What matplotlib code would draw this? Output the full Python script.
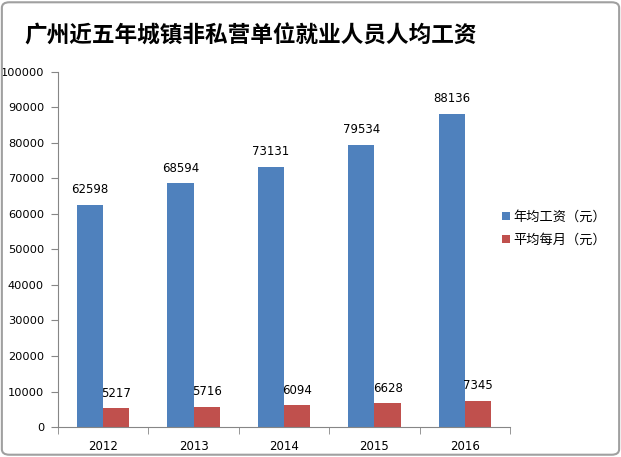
import matplotlib.pyplot as plt
import numpy as np
from matplotlib.patches import FancyBboxPatch

plt.rcParams['font.family'] = ['DejaVu Sans', 'Noto Sans CJK SC']

years = ['2012', '2013', '2014', '2015', '2016']
annual = [62598, 68594, 73131, 79534, 88136]
monthly = [5217, 5716, 6094, 6628, 7345]

fig = plt.figure(figsize=(6.21, 4.57), dpi=100)
ax = fig.add_axes([0.0934, 0.0656, 0.728, 0.777])

x = np.arange(len(years))
w = 0.29
b1 = ax.bar(x - w / 2, annual, w, color='#4F81BD', label='年均工资（元）')
b2 = ax.bar(x + w / 2, monthly, w, color='#C0504D', label='平均每月（元）')

for bars, vals in ((b1, annual), (b2, monthly)):
    for r, v in zip(bars, vals):
        ax.text(r.get_x() + r.get_width() / 2, v + 2500, str(v),
                ha='center', va='bottom', fontsize=8.5)

ax.set_xlim(-0.5, len(years) - 0.5)
ax.set_ylim(0, 100000)
ax.set_yticks(np.arange(0, 100001, 10000))
ax.tick_params(axis='y', labelsize=8.2, length=5, pad=5, color='#868686')
ax.set_xticks(x)
ax.set_xticklabels(years, fontsize=8.5)
ax.tick_params(axis='x', length=0, pad=9)
ax.set_xticks(np.arange(-0.5, len(years)), minor=True)
ax.tick_params(axis='x', which='minor', length=5, color='#868686')
for s in ('top', 'right'):
    ax.spines[s].set_visible(False)
for s in ('left', 'bottom'):
    ax.spines[s].set_color('#868686')

fig.legend(handles=[b1, b2], loc='upper left', bbox_to_anchor=(0.79, 0.565),
           frameon=False, handlelength=0.6, handleheight=0.6,
           handletextpad=0.2, labelspacing=0.75,
           prop={'family': ['Noto Sans CJK SC'], 'size': 9.5})

fig.text(0.403, 0.922, '广州近五年城镇非私营单位就业人员人均工资', ha='center', va='center',
         fontsize=16.3, fontweight='bold', family=['Noto Sans CJK SC'])

border = FancyBboxPatch((0.003, 0.005), 0.994, 0.99, boxstyle='round,pad=0,rounding_size=0.012',
                        transform=fig.transFigure, fill=False, edgecolor='#A0A0A0', lw=1.5)
fig.patches.append(border)

fig.savefig('out.png', dpi=100)
